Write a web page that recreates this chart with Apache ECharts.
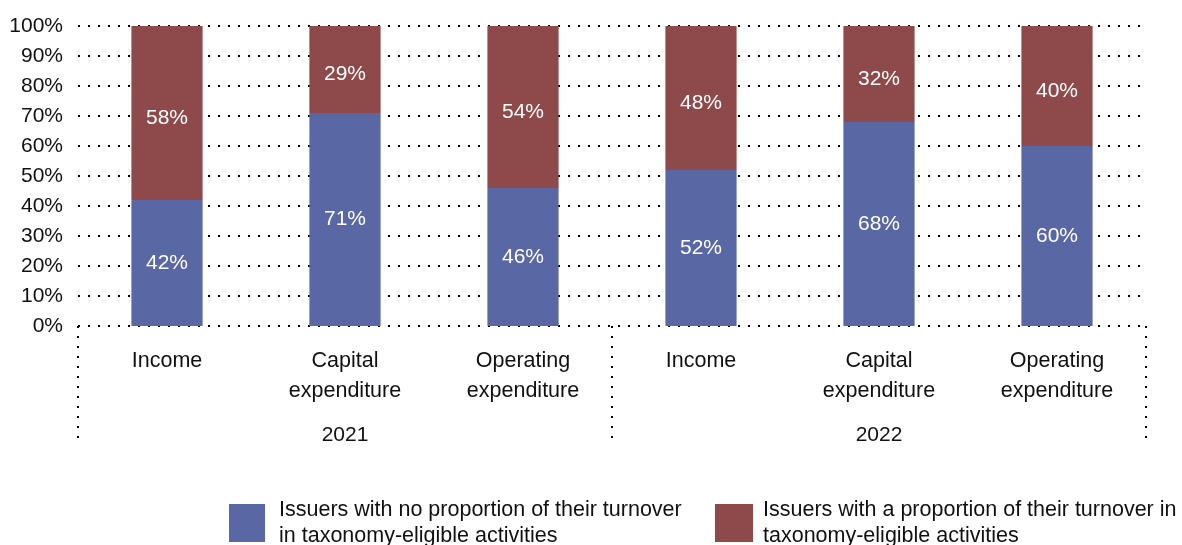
<!DOCTYPE html>
<html>
<head>
<meta charset="utf-8">
<script src="https://cdn.jsdelivr.net/npm/echarts@6/dist/echarts.min.js"></script>
<style>html,body{margin:0;padding:0;background:#fff}#c{width:1182px;height:545px}</style>
</head>
<body>
<div id="c"></div>
<script>
const categories = ['Income', 'Capital\nexpenditure', 'Operating\nexpenditure', 'Income', 'Capital\nexpenditure', 'Operating\nexpenditure'];
const years = ['2021', '2022'];
const noProportion = [42, 71, 46, 52, 68, 60];
const withProportion = [58, 29, 54, 48, 32, 40];
const yTicks = [0, 10, 20, 30, 40, 50, 60, 70, 80, 90, 100];
const seriesNames = ['Issuers with no proportion of their turnover\nin taxonomy-eligible activities',
                     'Issuers with a proportion of their turnover in\ntaxonomy-eligible activities'];

const FONT = '"Liberation Sans", Arial, sans-serif';
const dotted = { color: '#000', width: 2, type: [2, 8] };

const chart = echarts.init(document.getElementById('c'), null, { renderer: 'canvas' });
chart.setOption({
  animation: false,
  textStyle: { fontFamily: FONT },
  grid: { left: 78, right: 36, top: 26, bottom: 219 },
  xAxis: [
    {
      type: 'category', data: categories, position: 'bottom',
      axisLine: { show: false }, axisTick: { show: false },
      axisLabel: { color: '#111', fontSize: 21.5, fontFamily: FONT, lineHeight: 30, margin: 20, interval: 0, verticalAlign: 'top' }
    },
    {
      type: 'category', data: years, position: 'bottom',
      axisLine: { show: false },
      axisTick: { show: true, length: 115, lineStyle: dotted, interval: 0 },
      axisLabel: { color: '#111', fontSize: 21, fontFamily: FONT, lineHeight: 22, margin: 98, verticalAlign: 'top' }
    }
  ],
  yAxis: {
    type: 'value', min: 0, max: 100, interval: 10,
    axisLine: { show: false }, axisTick: { show: false },
    axisLabel: { color: '#111', fontSize: 21, fontFamily: FONT, margin: 15,
      formatter: v => yTicks.includes(v) ? v + '%' : '' },
    splitLine: { show: true, lineStyle: dotted }
  },
  legend: [
    { data: [seriesNames[0]], left: 229, top: 494, padding: 0, icon: 'rect', itemWidth: 36, itemHeight: 38,
      textStyle: { fontSize: 21.5, color: '#111', fontFamily: FONT, lineHeight: 26, padding: [6, 0, 0, 9] } },
    { data: [seriesNames[1]], left: 715, top: 494, padding: 0, icon: 'rect', itemWidth: 38, itemHeight: 38,
      textStyle: { fontSize: 21.5, color: '#111', fontFamily: FONT, lineHeight: 26, padding: [6, 0, 0, 5] } }
  ],
  series: [
    { name: seriesNames[0], type: 'bar', stack: 't', data: noProportion, barWidth: '40%',
      itemStyle: { color: '#5A67A5' },
      label: { show: true, position: 'inside', color: '#fff', fontSize: 21, fontFamily: FONT, formatter: p => p.value + '%' } },
    { name: seriesNames[1], type: 'bar', stack: 't', data: withProportion, barWidth: '40%',
      itemStyle: { color: '#8E4A4A' },
      label: { show: true, position: 'inside', offset: [0, 5], color: '#fff', fontSize: 21, fontFamily: FONT, formatter: p => p.value + '%' } }
  ]
});
</script>
</body>
</html>
